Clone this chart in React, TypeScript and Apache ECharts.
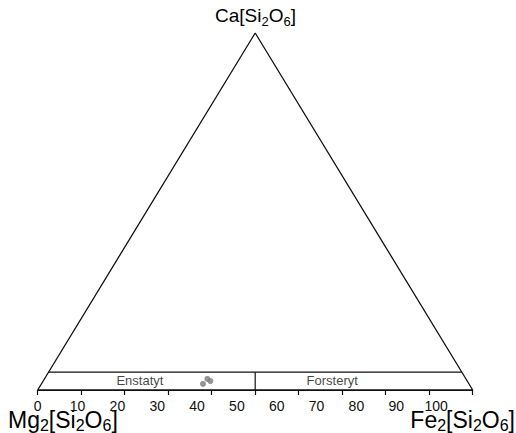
import React, { useEffect, useRef } from "react";
import * as echarts from "echarts";

// tick positions (composition units along the base, 0..100)
const tickValues = [0, 10, 20, 30, 40, 50, 60, 70, 80, 90, 100];
// tick labels as printed (they sit on a slightly compressed scale)
const tickLabels = [0, 10, 20, 30, 40, 50, 60, 70, 80, 90, 100];
// triangle outline: Mg corner, Ca apex, Fe corner
const triangle = [
  [0, 0],
  [50, 100],
  [100, 0],
  [0, 0],
];
// field boundary line and divider
const bandLine = [
  [2.5, 5],
  [97.5, 5],
];
const divider = [
  [50, 0],
  [50, 5],
];
// field names and their positions
const fieldNames = ["Enstatyt", "Forsteryt"];
const fieldPos = [
  [23.5, 2.7],
  [67.7, 2.7],
];
// measured compositions
const samples = [
  [38.0, 1.7],
  [39.0, 3.1],
  [39.7, 2.5],
];

const FONT = "'Liberation Sans', Arial, Helvetica, sans-serif";

function formula(parts: [string, boolean][]) {
  return parts.map(([t, sub]) => `{${sub ? "s" : "m"}|${t}}`).join("");
}

export default function App() {
  const ref = useRef<HTMLDivElement>(null);
  useEffect(() => {
    if (!ref.current) return;
    const chart = echarts.init(ref.current, undefined, { renderer: "svg" });
    const rich = (F: number, S: number, off: number) => ({
      m: { fontSize: F, lineHeight: F, verticalAlign: "top", fontFamily: FONT, color: "#111" },
      s: {
        fontSize: S,
        lineHeight: S,
        verticalAlign: "top",
        padding: [off, 0, 0, 0],
        fontFamily: FONT,
        color: "#111",
      },
    });
    chart.setOption({
      animation: false,
      backgroundColor: "#ffffff",
      grid: { left: 37.7, right: 43.3, top: 33, bottom: 43, containLabel: false },
      xAxis: [
        {
          type: "value",
          min: 0,
          max: 100,
          interval: 10,
          axisLine: { show: true, lineStyle: { color: "#111", width: 1.2 } },
          axisTick: { show: true, length: 5, lineStyle: { color: "#111", width: 1.2 }, customValues: tickValues },
          axisLabel: { show: false },
          splitLine: { show: false },
        },
        {
          type: "value",
          min: 0,
          max: 109.2,
          interval: 10,
          position: "bottom",
          axisLine: { show: false },
          axisTick: { show: false },
          splitLine: { show: false },
          axisLabel: {
            show: true,
            customValues: tickLabels,
            margin: 10,
            fontSize: 14,
            lineHeight: 12,
            fontFamily: FONT,
            color: "#111",
            formatter: (v: number) => (v % 10 === 0 && v <= 100 ? String(v) : ""),
          },
        },
      ],
      yAxis: { type: "value", min: 0, max: 100, show: false },
      series: [
        {
          type: "line",
          data: triangle,
          symbol: "none",
          lineStyle: { color: "#111", width: 1.3 },
          silent: true,
        },
        {
          type: "line",
          data: bandLine,
          symbol: "none",
          lineStyle: { color: "#111", width: 1.2 },
        },
        {
          type: "line",
          data: divider,
          symbol: "none",
          lineStyle: { color: "#111", width: 1.2 },
        },
        {
          type: "scatter",
          data: fieldPos.map((p, i) => ({ value: p, name: fieldNames[i] })),
          symbolSize: 0,
          label: {
            show: true,
            position: "inside",
            formatter: (p: any) => p.name,
            fontSize: 13,
            fontFamily: FONT,
            color: "#111",
          },
        },
        {
          type: "scatter",
          data: samples,
          symbolSize: 6,
          itemStyle: { color: "#7a7a7a" },
        },
      ],
      graphic: [
        {
          type: "text",
          x: 255.5,
          y: 5.5,
          style: {
            text: formula([["Ca[Si", false], ["2", true], ["O", false], ["6", true], ["]", false]]),
            rich: rich(19, 13, 9.5),
            align: "center",
            verticalAlign: "top",
          },
        },
        {
          type: "text",
          x: 8,
          y: 408.5,
          style: {
            text: formula([["Mg", false], ["2", true], ["[Si", false], ["2", true], ["O", false], ["6", true], ["]", false]]),
            rich: rich(23, 16, 8.5),
            align: "left",
            verticalAlign: "top",
          },
        },
        {
          type: "text",
          x: 515,
          y: 408.5,
          style: {
            text: formula([["Fe", false], ["2", true], ["[Si", false], ["2", true], ["O", false], ["6", true], ["]", false]]),
            rich: rich(23, 16, 8.5),
            align: "right",
            verticalAlign: "top",
          },
        },
      ],
    });
    return () => chart.dispose();
  }, []);
  return (
    <div
      ref={ref}
      style={{ position: "absolute", left: 0, top: 0, width: 516, height: 433 }}
    />
  );
}
